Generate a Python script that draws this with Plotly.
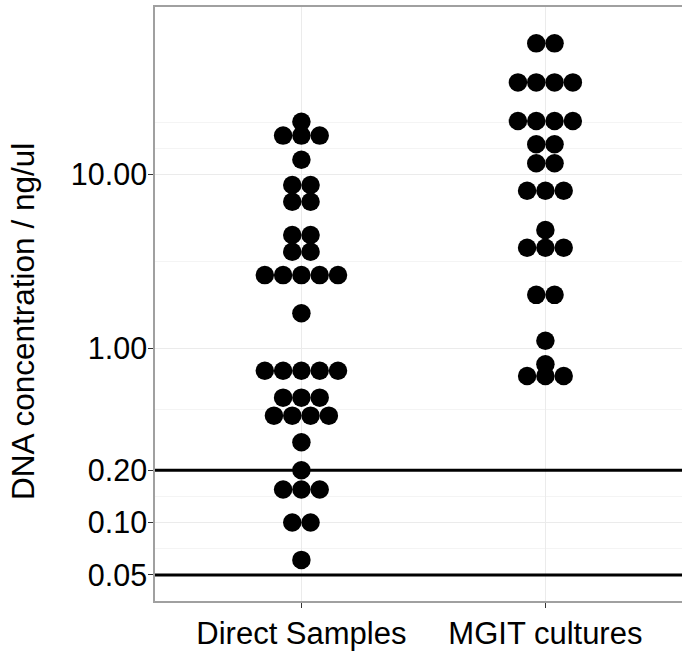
import numpy as np
import plotly.graph_objects as go

# ---- data (one entry per dot, ng/ul) ----
categories = ["Direct Samples", "MGIT cultures"]
direct_values = [20.2,
                 16.8, 16.8, 16.8,
                 12.2,
                 8.74, 8.74,
                 7.0, 7.0,
                 4.51, 4.51,
                 3.61, 3.61,
                 2.65, 2.65, 2.65, 2.65, 2.65,
                 1.60,
                 0.747, 0.747, 0.747, 0.747, 0.747,
                 0.523, 0.523, 0.523,
                 0.412, 0.412, 0.412, 0.412,
                 0.29,
                 0.20,
                 0.155, 0.155, 0.155,
                 0.10, 0.10,
                 0.061]
mgit_values = [57.0, 57.0,
               34.0, 34.0, 34.0, 34.0,
               20.4, 20.4, 20.4, 20.4,
               15.0, 15.0,
               11.65, 11.65,
               8.10, 8.10, 8.10,
               4.82,
               3.81, 3.81, 3.81,
               2.04, 2.04,
               1.11,
               0.813,
               0.697, 0.697, 0.697]
y_breaks = [0.05, 0.1, 0.2, 1, 10]
y_break_labels = ["0.05", "0.10", "0.20", "1.00", "10.00"]
threshold_lines = [0.2, 0.05]
y_title = "DNA concentration / ng/ul"

# ---- layout constants ----
W, H = 682, 652
ML, MR, MT, MB = 155, 0, 7, 51
PX_PER_UNIT = 244.0
DOT_D = 18.5
SPACING = 18.3 / PX_PER_UNIT
x_range = [0.4, 0.4 + (W - ML - MR) / PX_PER_UNIT]
y_range = [-1.451, 1.965]
FONT = "Liberation Sans, Arial, Helvetica, sans-serif"


def stack_centered(values, center):
    xs, ys = [], []
    uniq = []
    for v in values:
        if v not in uniq:
            uniq.append(v)
    for v in uniq:
        n = values.count(v)
        for i in range(n):
            xs.append(center + (i - (n - 1) / 2.0) * SPACING)
            ys.append(v)
    return xs, ys


# minor breaks like ggplot's regular_minor_breaks (in log space)
lb = np.log10(y_breaks)
bd = lb[1] - lb[0]
ext = np.concatenate([[lb[0] - bd], lb, [lb[-1] + bd]])
minor = []
for a, b in zip(ext[:-1], ext[1:]):
    minor.append((a + b) / 2)
minor.append(ext[-1])
minor_vals = [10 ** m for m in minor]

fig = go.Figure()
for i, vals in enumerate([direct_values, mgit_values]):
    xs, ys = stack_centered(vals, i + 1)
    fig.add_trace(go.Scatter(
        x=xs, y=ys, mode="markers",
        marker=dict(size=DOT_D, color="black", line=dict(width=0)),
        showlegend=False, hoverinfo="skip", cliponaxis=True))

for v in threshold_lines:
    fig.add_shape(type="line", xref="paper", x0=0, x1=1, yref="y", y0=v, y1=v,
                  line=dict(color="black", width=3), layer="above")

fig.update_layout(
    width=W, height=H,
    margin=dict(l=ML, r=MR, t=MT, b=MB, pad=0, autoexpand=False),
    paper_bgcolor="white", plot_bgcolor="white",
    font=dict(family=FONT, size=30, color="black"),
    xaxis=dict(
        range=x_range, tickmode="array", tickvals=[1, 2], ticktext=categories,
        showgrid=True, gridcolor="#ebebeb", gridwidth=1.1,
        zeroline=False, showline=True, linecolor="#a0a0a0", linewidth=1.5, mirror=True,
        ticks="outside", ticklen=5, tickwidth=1.3, tickcolor="#333333",
        tickfont=dict(family=FONT, size=31, color="black"),
        ticklabelstandoff=-1, automargin=False,
    ),
    yaxis=dict(
        type="log", range=y_range, tickmode="array", tickvals=y_breaks, ticktext=y_break_labels,
        showgrid=True, gridcolor="#ebebeb", gridwidth=1.1,
        minor=dict(tickvals=minor_vals, showgrid=True, gridcolor="#f4f4f4", gridwidth=0.8),
        zeroline=False, showline=True, linecolor="#a0a0a0", linewidth=1.5, mirror=False,
        ticks="outside", ticklen=5, tickwidth=1.3, tickcolor="#333333",
        tickfont=dict(family=FONT, size=30.5, color="black"),
        ticklabelstandoff=-5, automargin=False,
    ),
    annotations=[dict(
        text=y_title, textangle=-90, xref="paper", yref="paper",
        x=0, y=(601 - 322) / 594.0, xanchor="center", yanchor="middle",
        xshift=-132, showarrow=False,
        font=dict(family=FONT, size=31.5, color="black"))],
)

fig.write_html("out.html",
               config={"displayModeBar": False},
               post_script="document.body.style.margin='0';document.body.style.overflow='hidden';")
